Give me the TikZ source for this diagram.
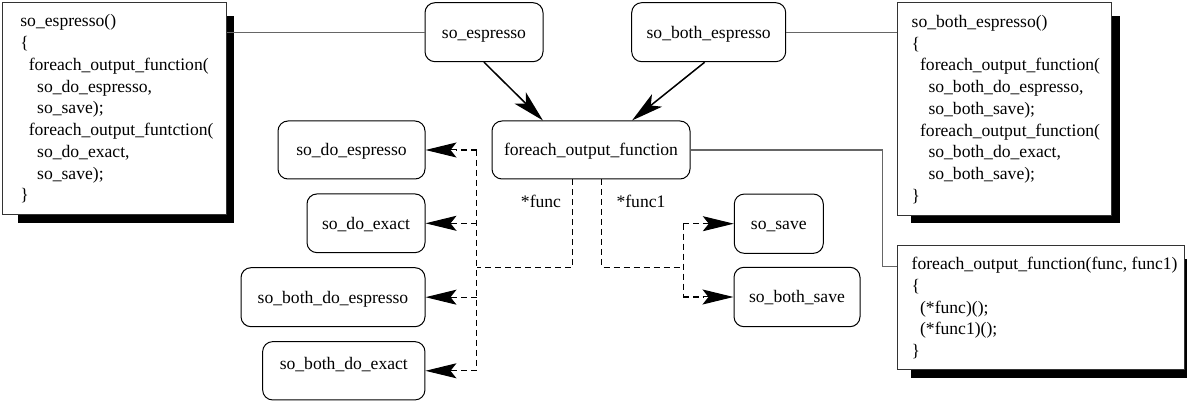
\documentclass[tikz,border=0pt]{standalone}
\usepackage{fontspec}
\setmainfont{Liberation Serif}
\usetikzlibrary{arrows.meta,calc,backgrounds}
\begin{document}
\begin{tikzpicture}[x=1pt,y=-1pt,
  every node/.style={font=\fontsize{17.6}{21.75}\selectfont},
  rbox/.style={draw=black, line width=1pt, rounded corners=10pt, inner sep=0pt, text height=16pt, text depth=4pt},
  codebox/.style={draw=black!80, line width=1pt, fill=white, inner sep=0pt},
  codetext/.style={inner sep=0pt, align=left, anchor=west},
  conn/.style={draw=black!60, line width=1.2pt},
  arr/.style={draw=black, line width=1.5pt, -{Stealth[length=32pt,width=16pt,inset=8pt]}},
  dashln/.style={draw=black, line width=1.3pt, dash pattern=on 6pt off 4pt},
  tipsolid/.style={draw=black, solid, line width=1pt, -{Stealth[length=31pt,width=15pt,inset=6pt]}},
  lbl/.style={inner sep=0pt, anchor=base}
]
\useasboundingbox (0,0) rectangle (1187,403);

% rounded boxes
\node[rbox, minimum width=118pt, minimum height=59pt] (sesp) at (484,32.2) {so\_espresso};
\node[rbox, minimum width=154pt, minimum height=59pt] (sbesp) at (708.7,32.2) {so\_both\_espresso};
\node[rbox, minimum width=198pt, minimum height=58pt] (fof) at (591,150) {foreach\_output\_function};
\node[rbox, minimum width=147pt, minimum height=58pt] (sde) at (351.5,150) {so\_do\_espresso};
\node[rbox, minimum width=118pt, minimum height=58.7pt] (sdx) at (366,223.3) {so\_do\_exact};
\node[rbox, minimum width=184pt, minimum height=59pt] (sbde) at (333,297.2) {so\_both\_do\_espresso};
\node[rbox, minimum width=162.3pt, minimum height=58.3pt, text depth=18pt] (sbdx) at (343.8,370.8) {so\_both\_do\_exact};
\node[rbox, minimum width=89pt, minimum height=59.3pt] (ssave) at (778.8,223.7) {so\_save};
\node[rbox, minimum width=126pt, minimum height=59.4pt] (sbsave) at (797,297) {so\_both\_save};

% code boxes
\node[codebox, minimum width=223.3pt, minimum height=212pt] (lbox) at (114.35,109) {};
\node[codebox, minimum width=214pt, minimum height=213.3pt] (rtbox) at (1004,109.35) {};
\node[codebox, minimum width=287pt, minimum height=124pt] (rbbox) at (1040.5,308) {};

\begin{scope}[on background layer]
  \fill ($(lbox.north west)+(16,14)$) rectangle ($(lbox.south east)+(7,8)$);
  \fill ($(rtbox.north west)+(14,14)$) rectangle ($(rtbox.south east)+(8,7)$);
  \fill ($(rbbox.north west)+(14,14)$) rectangle ($(rbbox.south east)+(3,8)$);
\end{scope}

\node[codetext] (ltext) at ($(lbox.west)+(18,0)$) {so\_espresso()\\
\{\\
\hspace*{8.4pt}foreach\_output\_function(\\
\hspace*{16.8pt}so\_do\_espresso,\\
\hspace*{16.8pt}so\_save);\\
\hspace*{8.4pt}foreach\_output\_funtction(\\
\hspace*{16.8pt}so\_do\_exact,\\
\hspace*{16.8pt}so\_save);\\
\}};

\node[codetext] (rttext) at ($(rtbox.west)+(15,0)$) {so\_both\_espresso()\\
\{\\
\hspace*{8.4pt}foreach\_output\_function(\\
\hspace*{16.8pt}so\_both\_do\_espresso,\\
\hspace*{16.8pt}so\_both\_save);\\
\hspace*{8.4pt}foreach\_output\_function(\\
\hspace*{16.8pt}so\_both\_do\_exact,\\
\hspace*{16.8pt}so\_both\_save);\\
\}};

\node[codetext] (rbtext) at ($(rbbox.west)+(15,0)$) {foreach\_output\_function(func, func1)\\
\{\\
\hspace*{8.4pt}(*func)();\\
\hspace*{8.4pt}(*func1)();\\
\}};

% solid connectors
\draw[conn] (sesp.west) -- (sesp.west -| lbox.east);
\draw[conn] (sbesp.east) -- (sbesp.east -| rtbox.west);
\coordinate (jc) at (882.3,266.7);
\draw[conn] (fof.east) -| (jc) -- (jc -| rbbox.west);

% arrows
\draw[arr] (sesp.south) -- ([xshift=-48pt]fof.north);
\draw[arr] ([xshift=-4pt]sbesp.south) -- ([xshift=41pt]fof.north);

% dashed
\coordinate (jl) at (476.7,267.7);
\coordinate (jr) at (683.3,267.7);
\draw[dashln] ([xshift=-18.3pt]fof.south) |- (jl);
\draw[dashln] (jl |- sde.east) -- (jl |- sbdx.east);
\foreach \n in {sde,sdx,sbde,sbdx} {
  \draw[dashln] (jl |- \n.east) -- ($(\n.east)+(30,0)$);
  \draw[tipsolid] ($(\n.east)+(31,0)$) -- (\n.east);
}
\draw[dashln] ([xshift=10.7pt]fof.south) |- (jr);
\draw[dashln] (jr |- ssave.west) -- (jr |- sbsave.west);
\foreach \n in {ssave,sbsave} {
  \draw[dashln] (jr |- \n.west) -- ($(\n.west)+(-30,0)$);
  \draw[tipsolid] ($(\n.west)+(-31,0)$) -- (\n.west);
}

\node[lbl] (lfunc) at (541,207.5) {*func};
\node[lbl] (lfunc1) at (641,207.5) {*func1};
\end{tikzpicture}
\end{document}
